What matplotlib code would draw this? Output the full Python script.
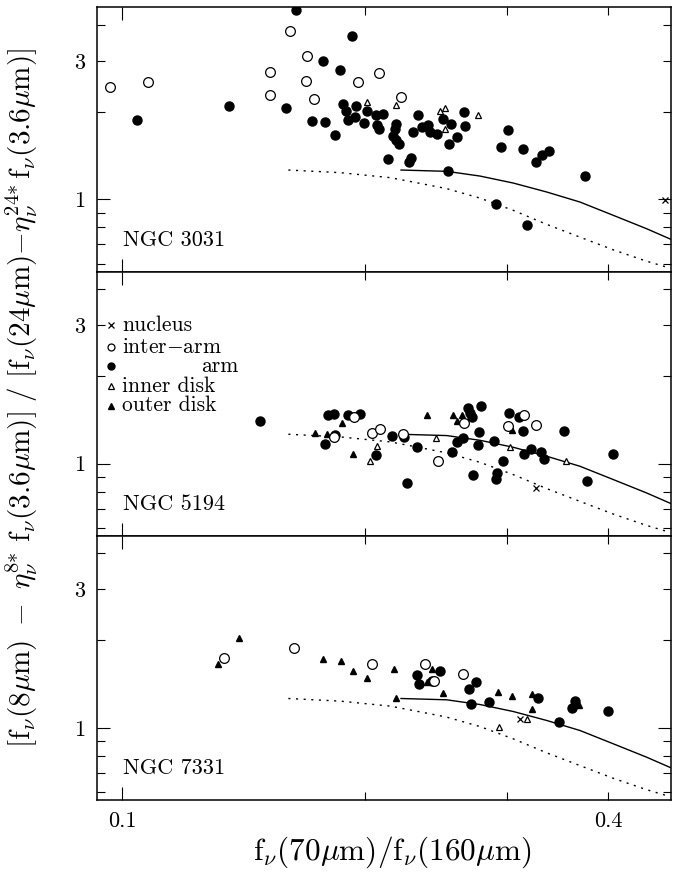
import matplotlib
matplotlib.use("Agg")
import matplotlib.pyplot as plt

plt.rcParams['font.family'] = 'serif'
plt.rcParams['font.serif'] = ['cmr10', 'DejaVu Serif']
plt.rcParams['mathtext.fontset'] = 'cm'
plt.rcParams['axes.unicode_minus'] = False
plt.rcParams['axes.formatter.use_mathtext'] = True

# ---------------- data ----------------
galaxies = ["NGC 3031", "NGC 5194", "NGC 7331"]

# NGC 3031
n3031_nuc_x = [0.4705]
n3031_nuc_y = [0.992]
n3031_inter_x = [0.0965, 0.1077, 0.1524, 0.1526, 0.1613, 0.1694, 0.1688, 0.1729, 0.1960, 0.2083, 0.2215]
n3031_inter_y = [2.44, 2.54, 2.75, 2.284, 3.81, 3.13, 2.55, 2.213, 2.535, 2.716, 2.261]
n3031_arm_x = [0.1042, 0.1356, 0.1595, 0.1640, 0.1771, 0.1717, 0.1783, 0.1835, 0.1863, 0.1924,
               0.1877, 0.1892, 0.1905, 0.1947, 0.1944, 0.2009, 0.1995, 0.2064, 0.2106, 0.2070,
               0.2083, 0.2136, 0.2184, 0.2176, 0.2165, 0.2184, 0.2203, 0.2327, 0.2294, 0.2350,
               0.2390, 0.2406, 0.2452, 0.2499, 0.2554, 0.2596, 0.2542, 0.2651, 0.2656, 0.2268,
               0.2279, 0.2535, 0.3008, 0.2943, 0.3140, 0.3253, 0.3315, 0.3376, 0.3744, 0.2901,
               0.3170]
n3031_arm_y = [1.873, 2.099, 2.066, 4.49, 2.994, 1.858, 1.854, 1.663, 2.794, 3.65,
               2.132, 2.012, 1.873, 2.099, 1.929, 2.023, 1.829, 1.949, 1.975, 1.800,
               1.754, 1.374, 1.819, 1.754, 1.650, 1.598, 1.548, 1.949, 1.712, 1.776,
               1.800, 1.707, 1.686, 1.898, 1.815, 1.641, 1.556, 2.001, 1.786, 1.345,
               1.388, 1.249, 1.740, 1.512, 1.496, 1.349, 1.427, 1.472, 1.200, 0.961,
               0.818]
n3031_inner_x = [0.2012, 0.2182, 0.2476, 0.2511, 0.2511, 0.2757]
n3031_inner_y = [2.157, 2.115, 2.012, 2.066, 1.748, 1.960]
n3031_outer_x = []
n3031_outer_y = []

# NGC 5194
n5194_nuc_x = [0.3256]
n5194_nuc_y = [0.825]
n5194_inter_x = [0.1939, 0.1831, 0.2041, 0.2086, 0.2226, 0.2461, 0.2653, 0.3008, 0.3146, 0.3253]
n5194_inter_y = [1.447, 1.237, 1.271, 1.312, 1.264, 1.020, 1.380, 1.347, 1.470, 1.355]
n5194_arm_x = [0.1481, 0.1797, 0.1831, 0.1903, 0.1970, 0.1835, 0.1783, 0.2061, 0.2157, 0.2234,
               0.2251, 0.2316, 0.2684, 0.2697, 0.2715, 0.2781, 0.2767, 0.2646, 0.2601, 0.2560,
               0.2757, 0.2723, 0.2891, 0.2966, 0.2915, 0.2901, 0.3014, 0.3104, 0.3134, 0.3148,
               0.3206, 0.3303, 0.3334, 0.3524, 0.3768, 0.4055]
n5194_arm_y = [1.405, 1.467, 1.478, 1.474, 1.482, 1.251, 1.170, 1.070, 1.247, 1.231,
               0.858, 1.137, 1.550, 1.490, 1.447, 1.583, 1.281, 1.228, 1.189, 1.093,
               1.161, 0.915, 1.198, 1.018, 0.927, 0.882, 1.497, 1.450, 1.298, 1.076,
               1.122, 1.098, 1.036, 1.298, 0.868, 1.076]
n5194_inner_x = [0.2067, 0.2027, 0.2445, 0.3020, 0.3543]
n5194_inner_y = [1.149, 1.020, 1.228, 1.143, 1.018]
n5194_outer_x = [0.1873, 0.1734, 0.1795, 0.1931, 0.2384, 0.2567, 0.2638, 0.2596, 0.3038]
n5194_outer_y = [1.383, 1.277, 1.261, 1.078, 1.467, 1.474, 1.474, 1.405, 1.305]

# NGC 7331
n7331_nuc_x = [0.3110]
n7331_nuc_y = [1.074]
n7331_inter_x = [0.1337, 0.1633, 0.2037, 0.2374, 0.2434, 0.2641]
n7331_inter_y = [1.734, 1.888, 1.663, 1.654, 1.445, 1.531]
n7331_arm_x = [0.2316, 0.2333, 0.2418, 0.2478, 0.2743, 0.2692, 0.2707, 0.2849, 0.3278, 0.3477,
               0.3642, 0.3611, 0.3998]
n7331_arm_y = [1.523, 1.419, 1.448, 1.568, 1.441, 1.366, 1.210, 1.229, 1.272, 1.045,
               1.242, 1.172, 1.147]
n7331_inner_x = [0.2927, 0.3176]
n7331_inner_y = [1.010, 1.074]
n7331_outer_x = [0.1315, 0.1394, 0.1771, 0.1865, 0.1931, 0.2009, 0.2171, 0.2184, 0.2418, 0.2384,
                 0.2495, 0.2924, 0.3041, 0.3221, 0.3219, 0.3678]
n7331_outer_y = [1.654, 2.033, 1.720, 1.697, 1.568, 1.479, 1.598, 1.262, 1.598, 1.437,
                 1.316, 1.324, 1.289, 1.306, 1.163, 1.203]

# model curves (same in all panels)
solid_x = [0.2215, 0.2523, 0.2775, 0.3052, 0.3357, 0.3691, 0.4059, 0.4465, 0.4786]
solid_y = [1.262, 1.249, 1.203, 1.138, 1.060, 0.979, 0.881, 0.792, 0.728]
dotted_x = [0.1606, 0.1862, 0.2147, 0.2294, 0.2523, 0.2775, 0.3052, 0.3357, 0.3691, 0.4059, 0.4465, 0.4728]
dotted_y = [1.262, 1.236, 1.188, 1.147, 1.089, 1.010, 0.916, 0.820, 0.741, 0.670, 0.612, 0.584]

x_ticks_minor = [0.2, 0.3, 0.4]
x_minor_labels = ["", "", "0.4"]
y_ticks_minor = [0.6, 0.7, 0.8, 0.9, 2, 3, 4]
y_minor_labels = ["", "", "", "", "", "3", ""]

legend_labels = ["nucleus", r"inter$-$arm", "arm", "inner disk", "outer disk"]

panels = [
    (n3031_nuc_x, n3031_nuc_y, n3031_inter_x, n3031_inter_y, n3031_arm_x, n3031_arm_y,
     n3031_inner_x, n3031_inner_y, n3031_outer_x, n3031_outer_y),
    (n5194_nuc_x, n5194_nuc_y, n5194_inter_x, n5194_inter_y, n5194_arm_x, n5194_arm_y,
     n5194_inner_x, n5194_inner_y, n5194_outer_x, n5194_outer_y),
    (n7331_nuc_x, n7331_nuc_y, n7331_inter_x, n7331_inter_y, n7331_arm_x, n7331_arm_y,
     n7331_inner_x, n7331_inner_y, n7331_outer_x, n7331_outer_y),
]

# ---------------- figure ----------------
fig = plt.figure(figsize=(6.81, 8.73), dpi=100)
left, right = 97.3 / 681, 671 / 681
top_px, bot_px = 7.3, 800
ph = (bot_px - top_px) / 3

styles = {
    'nuc': dict(marker='x', ms=4.5, mew=0.9, color='black', ls='none'),
    'inter': dict(marker='o', ms=7, mfc='white', mec='black', mew=0.9, ls='none'),
    'arm': dict(marker='o', ms=6.5, mfc='black', mec='black', ls='none'),
    'inner': dict(marker='^', ms=5, mfc='white', mec='black', mew=0.9, ls='none'),
    'outer': dict(marker='^', ms=4.5, mfc='black', mec='black', ls='none'),
}

for i, (name, d) in enumerate(zip(galaxies, panels)):
    y0 = 1 - (top_px + (i + 1) * ph) / 873
    ax = fig.add_axes([left, y0, right - left, ph / 873])
    ax.set_xscale('log')
    ax.set_yscale('log')
    nx, ny, ix, iy, ax_, ay, inx, iny, ox, oy = d
    ax.plot(solid_x, solid_y, color='black', lw=1.0)
    ax.plot(dotted_x, dotted_y, color='black', lw=1.0, ls=(0, (1.5, 4)))
    ax.plot(ax_, ay, **styles['arm'])
    ax.plot(ox, oy, **styles['outer'])
    ax.plot(inx, iny, **styles['inner'])
    ax.plot(ix, iy, **styles['inter'])
    ax.plot(nx, ny, **styles['nuc'])
    ax.set_xlim(0.0931, 0.4786)
    ax.set_ylim(0.564, 4.59)

    ax.set_xticks([0.1])
    ax.set_xticks(x_ticks_minor, minor=True)
    ax.set_yticks([1])
    ax.set_yticks(y_ticks_minor, minor=True)
    ax.set_yticklabels(["1"])
    ax.set_yticklabels(y_minor_labels, minor=True)
    if i == 2:
        ax.set_xticklabels(["0.1"])
        ax.set_xticklabels(x_minor_labels, minor=True)
    else:
        ax.set_xticklabels([""])
        ax.set_xticklabels(["", "", ""], minor=True)
    ax.tick_params(which='both', direction='in', top=True, right=True, width=0.8,
                   labelsize=16, colors='black')
    ax.tick_params(which='major', length=9.5)
    ax.tick_params(which='minor', length=5.5)
    ax.tick_params(axis='x', which='both', pad=8)
    ax.tick_params(axis='y', which='both', pad=9)
    for sp in ax.spines.values():
        sp.set_linewidth(1.1)

    ax.text(0.045, 0.12, name, transform=ax.transAxes, fontsize=16,
            ha='left', va='center')

    if i == 1:
        lx_m, lx_t = 0.0234, 0.0436
        ly = [0.7985, 0.7138, 0.6408, 0.5652, 0.4922]
        keys = ['nuc', 'inter', 'arm', 'inner', 'outer']
        small = {'nuc': 4, 'inter': 5, 'arm': 5, 'inner': 4.5, 'outer': 4}
        for k, yy, lab in zip(keys, ly, legend_labels):
            st = dict(styles[k])
            st['ms'] = small[k]
            ax.plot([lx_m], [yy], transform=ax.transAxes, clip_on=False, **st)
            if k == 'arm':
                ax.text(0.2453, yy, lab, transform=ax.transAxes, fontsize=15.5,
                        ha='right', va='center')
            else:
                ax.text(lx_t, yy, lab, transform=ax.transAxes, fontsize=15.5,
                        ha='left', va='center')

fig.text(392 / 681, 1 - 852 / 873,
         r"$\mathrm{f}_\nu(70\mu\mathrm{m})/\mathrm{f}_\nu(160\mu\mathrm{m})$",
         ha='center', va='center', fontsize=22.5)
fig.text(22 / 681, 1 - 398 / 873,
         r"$[\mathrm{f}_\nu(8\mu\mathrm{m})\ -\ \eta_\nu^{8{*}}\ \mathrm{f}_\nu(3.6\mu\mathrm{m})]\ /\ "
         r"[\mathrm{f}_\nu(24\mu\mathrm{m}){-}\eta_\nu^{24{*}}\,\mathrm{f}_\nu(3.6\mu\mathrm{m})]$",
         ha='center', va='center', rotation=90, fontsize=21)

fig.savefig("out.png", dpi=100)
